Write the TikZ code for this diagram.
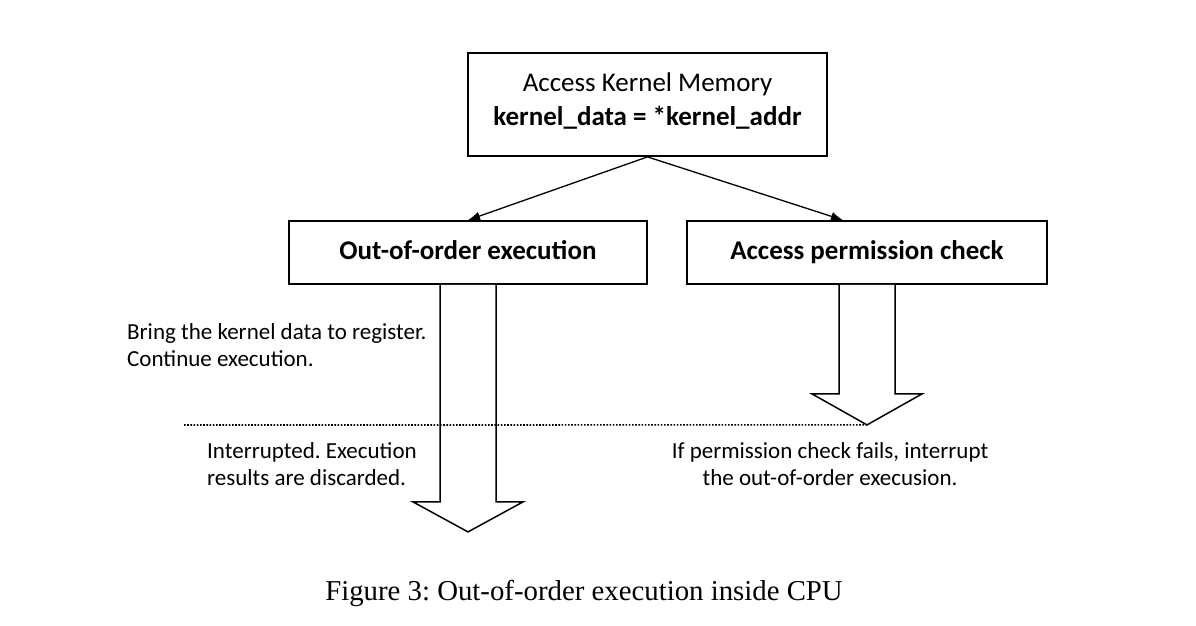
\documentclass[tikz,border=0pt]{standalone}
\usepackage{fontspec}
\setmainfont{Carlito}
\newfontfamily\capfont{Liberation Serif}
\usetikzlibrary{arrows.meta}
\frenchspacing

\begin{document}
\begin{tikzpicture}[x=1pt,y=-1pt,
        box/.style={draw,line width=1.8pt,minimum width=358pt,minimum height=63pt,font=\fontsize{27}{34}\selectfont\bfseries,execute at begin node=\strut},
        note/.style={inner sep=0pt,font=\fontsize{23}{27.5}\selectfont},
        hollow/.style={draw,fill=white,line width=1.5pt,line join=miter},
        link/.style={line width=1.3pt,-{Latex[length=12pt,width=9pt]}}]
                \useasboundingbox (0,0) rectangle (1196,626);

                \node[box,minimum width=359pt,minimum height=103pt,align=center,font=\fontsize{27}{34}\selectfont] (access) at (647.5,104.5) {Access Kernel Memory\\\textbf{kernel\_data = *kernel\_addr}};
                \node[box] (ooo) at (468,252.5) {Out-of-order execution};
                \node[box,minimum width=360pt] (check) at (867,252.5) {Access permission check};

                \draw[link] (access.south) -- (ooo.north);
                \draw[link] (access.south) -- ([xshift=-24pt]check.north);

                \draw[hollow] ([xshift=-28pt]ooo.south) -- ++(0,217) -- ++(-27,0) -- ++(55,30) coordinate (oootip) -- ++(55,-30) -- ++(-27,0) -- ++(0,-217);
                \draw[hollow] ([xshift=-28pt]check.south) -- ++(0,109) -- ++(-27,0) -- ++(55,31) coordinate (checktip) -- ++(55,-31) -- ++(-27,0) -- ++(0,-109);

                \coordinate (cut) at (184,425);
                \draw[line width=1.6pt,dash pattern=on 1.6pt off 1.6pt] (cut) -- (checktip);

                \node[note,anchor=west,align=left] (bring) at (127,345) {Bring the kernel data to register.\\Continue execution.};
                \node[note,anchor=west,align=left] (stop) at (207,464) {Interrupted. Execution\\results are discarded.};
                \node[note,align=center] (fails) at (830,464) {If permission check fails, interrupt\\the out-of-order execusion.};

                \node[font=\capfont\fontsize{28.8}{34}\selectfont] (caption) at (584,593) {Figure 3: Out-of-order execution inside CPU};
            \end{tikzpicture}
\end{document}
